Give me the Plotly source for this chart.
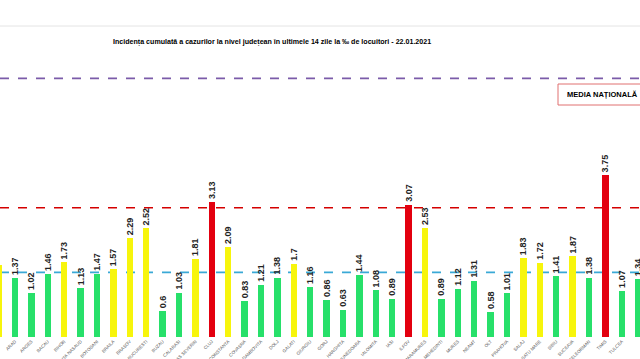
import plotly.graph_objects as go

counties = ["ALBA", "ARAD", "ARGES", "BACAU", "BIHOR", "BISTRITA NASAUD", "BOTOSANI",
            "BRAILA", "BRASOV", "BUCURESTI", "BUZAU", "CALARASI", "CARAS SEVERIN", "CLUJ",
            "CONSTANTA", "COVASNA", "DAMBOVITA", "DOLJ", "GALATI", "GIURGIU", "GORJ",
            "HARGHITA", "HUNEDOARA", "IALOMITA", "IASI", "ILFOV", "MARAMURES", "MEHEDINTI",
            "MURES", "NEAMT", "OLT", "PRAHOVA", "SALAJ", "SATU MARE", "SIBIU", "SUCEAVA",
            "TELEORMAN", "TIMIS", "TULCEA", "VASLUI"]
incidence = [1.67, 1.37, 1.02, 1.46, 1.73, 1.13, 1.47,
             1.57, 2.29, 2.52, 0.6, 1.03, 1.81, 3.13,
             2.09, 0.83, 1.21, 1.38, 1.7, 1.16, 0.86,
             0.63, 1.44, 1.08, 0.89, 3.07, 2.53, 0.89,
             1.12, 1.31, 0.58, 1.01, 1.83, 1.72, 1.41, 1.87,
             1.38, 3.75, 1.07, 1.34]
thresholds = {"yellow": 1.5, "red": 3.0, "purple": 6.0}

GREEN, YELLOW, RED = "#27e06a", "#f7f50c", "#e3000f"

def bar_color(v):
    if v > thresholds["red"]:
        return RED
    if v > thresholds["yellow"]:
        return YELLOW
    return GREEN

xs = list(range(len(counties)))
fig = go.Figure()
fig.add_trace(go.Bar(
    x=xs, y=incidence,
    marker=dict(color=[bar_color(v) for v in incidence], line=dict(width=0)),
    width=0.4,
    text=[str(v) for v in incidence],
    texttemplate="<b>%{text}</b>",
    textposition="outside",
    textangle=-90,
    constraintext="none",
    cliponaxis=False,
    textfont=dict(family="Liberation Sans Narrow, Arial Narrow, sans-serif", size=9, color="#222222"),
    hoverinfo="skip",
))

for key, col in [("purple", "#7b5ba9"), ("red", "#d40000"), ("yellow", "#3aa9d6")]:
    fig.add_shape(type="line", xref="paper", yref="y", x0=0, x1=1,
                  y0=thresholds[key], y1=thresholds[key],
                  line=dict(color=col, width=1.6, dash="dash"), layer="below")

# faint top rule
fig.add_shape(type="line", xref="paper", yref="paper", x0=0, x1=1, y0=1 - 26/337, y1=1 - 26/337,
              line=dict(color="#e4e4e4", width=1))

# national average box (cut at right edge)
fig.add_shape(type="rect", xref="paper", yref="paper", x0=558/640, x1=1.2,
              y0=1 - 105/337, y1=1 - 84/337,
              line=dict(color="#e07070", width=1), fillcolor="white")
fig.add_annotation(xref="paper", yref="paper", x=565/640, y=1 - 94.5/337,
                   xanchor="left", yanchor="middle", showarrow=False,
                   text="<b>MEDIA NAȚIONALĂ</b>",
                   font=dict(family="Liberation Sans, Arial, sans-serif", size=7.5, color="#000000"))

fig.add_annotation(xref="paper", yref="paper", x=272/640, y=1 - 42/337,
                   xanchor="center", yanchor="middle", showarrow=False,
                   text="<b>Incidența cumulată a cazurilor la nivel județean în ultimele 14 zile la ‰ de locuitori - 22.01.2021</b>",
                   font=dict(family="Liberation Sans Narrow, Arial Narrow, sans-serif", size=7.1, color="#000000"))

px_per = 16.4
x0_idx = 1 - 15 / px_per
fig.update_layout(
    width=640, height=359,
    margin=dict(l=0, r=0, t=0, b=22, pad=0, autoexpand=False),
    paper_bgcolor="white", plot_bgcolor="white",
    showlegend=False,
    bargap=0,
    xaxis=dict(range=[x0_idx, x0_idx + 640 / px_per], tickvals=xs, ticktext=counties,
               tickangle=-45, automargin=False,
               tickfont=dict(family="Liberation Sans, Arial, sans-serif", size=4.5, color="#555555"),
               showgrid=False, zeroline=False, showline=False, ticks=""),
    yaxis=dict(range=[0, 337 / 43.1], visible=False, automargin=False, showgrid=False, zeroline=False),
)

fig.write_html("out.html", config={"displayModeBar": False, "staticPlot": True},
               post_script="document.body.style.margin='0';document.body.style.overflow='hidden';")
